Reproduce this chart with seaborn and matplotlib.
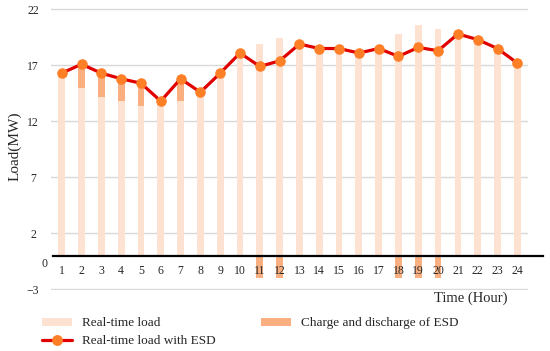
import matplotlib
matplotlib.use("Agg")
import matplotlib.pyplot as plt
import matplotlib.transforms as mtransforms
from matplotlib.patches import Patch
from matplotlib.lines import Line2D
import numpy as np
import seaborn as sns

# ---- data ----
hours = list(range(1, 25))
real_time_load = [16.3, 15.0, 14.2, 13.8, 13.4, 13.8, 13.8, 14.6, 16.3, 18.1, 18.9, 19.4,
                  18.9, 18.5, 18.5, 18.1, 18.5, 19.8, 20.6, 20.2, 19.8, 19.3, 18.5, 17.2]
esd_power = [0, 2.1, 2.1, 2.0, 2.0, 0, 2.0, 0, 0, 0, -2.0, -2.0,
             0, 0, 0, 0, 0, -2.0, -2.0, -2.0, 0, 0, 0, 0]
load_with_esd = [16.3, 17.1, 16.3, 15.8, 15.4, 13.8, 15.8, 14.6, 16.3, 18.1, 16.9, 17.4,
                 18.9, 18.5, 18.5, 18.1, 18.5, 17.8, 18.6, 18.3, 19.8, 19.3, 18.5, 17.2]
y_ticks = [-3, 2, 7, 12, 17, 22]

C_LOAD = "#FDE2D2"
C_ESD = "#F9AF80"
C_LINE = "#E00000"
C_MARK = "#FF7F27"

sns.set_style("white")
plt.rcParams["font.family"] = ["Liberation Serif", "DejaVu Serif"]

fig = plt.figure(figsize=(5.5, 3.51), dpi=100)
ax = fig.add_axes([0.0922, 0.1726, 0.8684, 0.804])

for yt in y_ticks:
    ax.axhline(yt, color="#d9d9d9", lw=1, zorder=0)

sns.barplot(x=hours, y=real_time_load, native_scale=True, width=0.34, color=C_LOAD,
            saturation=1, errorbar=None, ax=ax, zorder=1, linewidth=0)
bottoms = [l if e > 0 else 0 for l, e in zip(real_time_load, esd_power)]
ax.bar(hours, esd_power, bottom=bottoms, width=0.34, color=C_ESD, zorder=1.5, linewidth=0)
sns.lineplot(x=hours, y=load_with_esd, color=C_LINE, lw=2.3, marker="o", markersize=6.8,
             markerfacecolor=C_MARK, markeredgecolor=C_MARK, ax=ax, zorder=5)

ax.set_xlim(0.445, 24.555)
ax.set_ylim(-3.1, 22.1)
ax.set_yticks(y_ticks)
ax.set_xticks(hours)
ax.set_xticklabels([str(h) for h in hours])
ax.grid(False)
ax.set_axisbelow(False)
ax.xaxis.set_zorder(4)
for s in ["top", "right", "left"]:
    ax.spines[s].set_visible(False)
ax.spines["bottom"].set_position(("data", 0))
ax.spines["bottom"].set_color("black")
ax.spines["bottom"].set_linewidth(1.6)
ax.spines["bottom"].set_bounds(0.58, 25.3)
ax.spines["bottom"].set_clip_on(False)
ax.spines["bottom"].set_zorder(6)

ax.tick_params(axis="x", direction="in", length=6, width=1.4, color="black", pad=6.5,
               labelsize=8.5)
ax.tick_params(axis="y", length=0, pad=12.7, labelsize=8.5)
for lbl in ax.get_yticklabels():
    lbl.set_ha("center")
ax.set_xlabel("")
ax.set_ylabel("")

trans = mtransforms.blended_transform_factory(ax.transAxes, ax.transData)
ax.text(-0.012, -0.75, "0", transform=trans, ha="center", va="center", fontsize=8.5)

fig.text(15 / 550, 1 - 146 / 351, "Load(MW)", rotation=90, ha="center", va="center",
         fontsize=11)
fig.text(508 / 550, 1 - 298 / 351, "Time (Hour)", ha="right", va="center", fontsize=10.5)

handles = [
    Patch(facecolor=C_LOAD, edgecolor="none", label="Real-time load"),
    Line2D([], [], color=C_LINE, lw=2.3, marker="o", markersize=6.8,
           markerfacecolor=C_MARK, markeredgecolor=C_MARK, label="Real-time load with ESD"),
    Patch(facecolor=C_ESD, edgecolor="none", label="Charge and discharge of ESD"),
]
fig.legend(handles=handles, loc="upper left", bbox_to_anchor=(0.0637, 0.115), ncol=2,
           frameon=False, borderpad=0, fontsize=9.5, handlelength=2.27, handleheight=0.55,
           handletextpad=0.76, columnspacing=3.45, labelspacing=0.45)

fig.savefig("out.png", dpi=100)
